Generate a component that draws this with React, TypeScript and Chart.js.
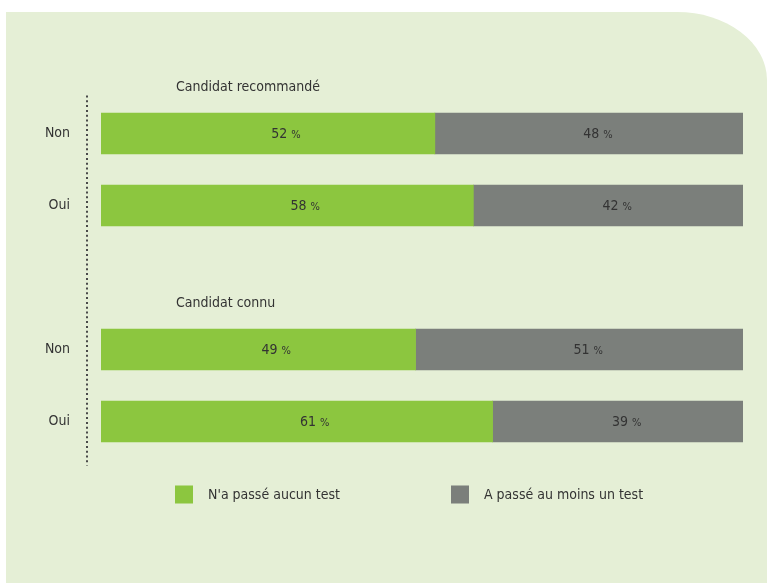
import React, { useEffect, useRef } from "react";
import { Chart, registerables } from "chart.js";

Chart.register(...registerables);

const groupTitles = ["Candidat recommandé", "Candidat connu"];
const answerLabels = ["Non", "Oui"];
const seriesNames = ["N'a passé aucun test", "A passé au moins un test"];
const noTestValues = [52, 58, 49, 61];
const atLeastOneValues = [48, 42, 51, 39];

const FONT = "'DejaVu Sans Condensed', 'DejaVu Sans', sans-serif";
const GREEN = "#8cc63f";
const GRAY = "#7b7f7b";
const TEXT = "#333333";
const PANEL = "#e5efd6";

// Build the rows: each group's answers, with an empty spacer row between groups
const rowLabels: string[] = [];
const rowGroup: number[] = [];
const greenData: (number | null)[] = [];
const grayData: (number | null)[] = [];
groupTitles.forEach((_g, gi) => {
  if (gi > 0) {
    rowLabels.push("");
    rowGroup.push(-1);
    greenData.push(null);
    grayData.push(null);
  }
  answerLabels.forEach((a, ai) => {
    const k = gi * answerLabels.length + ai;
    rowLabels.push(a);
    rowGroup.push(gi);
    greenData.push(noTestValues[k]);
    grayData.push(atLeastOneValues[k]);
  });
});

const labelOffsets = [18, 9];

const decorPlugin = {
  id: "decor",
  afterDatasetsDraw(chart: any) {
    const ctx = chart.ctx as CanvasRenderingContext2D;
    const area = chart.chartArea;
    ctx.save();

    // dotted vertical axis
    ctx.strokeStyle = "#4a4a4a";
    ctx.lineWidth = 2;
    ctx.setLineDash([2, 2.8]);
    ctx.beginPath();
    ctx.moveTo(area.left - 14, area.top - 2);
    ctx.lineTo(area.left - 14, area.bottom + 8);
    ctx.stroke();
    ctx.setLineDash([]);

    // value labels
    ctx.fillStyle = TEXT;
    ctx.textBaseline = "middle";
    chart.data.datasets.forEach((ds: any, di: number) => {
      const meta = chart.getDatasetMeta(di);
      meta.data.forEach((bar: any, i: number) => {
        const v = ds.data[i];
        if (v === null || v === undefined) return;
        const { x, base, y } = bar.getProps(["x", "base", "y"], true);
        const cx = (x + base) / 2 + labelOffsets[di];
        const numTxt = String(v) + " ";
        ctx.font = "14px " + FONT;
        const wNum = ctx.measureText(numTxt).width;
        ctx.font = "11px " + FONT;
        const wPct = ctx.measureText("%").width;
        const start = cx - (wNum + wPct) / 2;
        ctx.textAlign = "left";
        ctx.font = "14px " + FONT;
        ctx.fillText(numTxt, start, y + 1);
        ctx.font = "11px " + FONT;
        ctx.fillText("%", start + wNum, y + 2);
      });
    });

    // group titles
    const meta0 = chart.getDatasetMeta(0);
    ctx.font = "14px " + FONT;
    ctx.textAlign = "left";
    groupTitles.forEach((t, gi) => {
      const idx = rowGroup.indexOf(gi);
      const bar: any = meta0.data[idx];
      const { y, height } = bar.getProps(["y", "height"], true);
      ctx.fillText(t, area.left + 75, y - height / 2 - 26);
    });

    // legend
    const colors = [GREEN, GRAY];
    const ly = area.bottom + 37;
    seriesNames.forEach((name, i) => {
      const bx = area.left + 74 + i * 276;
      ctx.fillStyle = colors[i];
      ctx.fillRect(bx, ly - 9, 18, 18);
      ctx.fillStyle = TEXT;
      ctx.font = "14px " + FONT;
      ctx.fillText(name, bx + 33, ly + 1);
    });

    ctx.restore();
  },
};

export default function App() {
  const ref = useRef<HTMLCanvasElement | null>(null);
  useEffect(() => {
    if (!ref.current) return;
    const chart = new Chart(ref.current, {
      type: "bar",
      data: {
        labels: rowLabels,
        datasets: [
          { label: seriesNames[0], data: greenData, backgroundColor: GREEN, borderWidth: 0 },
          { label: seriesNames[1], data: grayData, backgroundColor: GRAY, borderWidth: 0 },
        ],
      },
      options: {
        indexAxis: "y",
        animation: false,
        responsive: false,
        maintainAspectRatio: false,
        events: [],
        layout: { padding: { top: 97.5, bottom: 125.5, left: 0, right: 24 } },
        datasets: { bar: { barThickness: 41 } } as any,
        scales: {
          x: { stacked: true, display: false, min: 0, max: 100 },
          y: {
            stacked: true,
            grid: { display: false, drawTicks: false, tickLength: 0 },
            border: { display: false },
            ticks: { color: TEXT, padding: 31, font: { family: FONT, size: 14 } },
            afterFit(scale: any) {
              scale.width = 101;
            },
          },
        },
        plugins: { legend: { display: false }, tooltip: { enabled: false } },
      },
      plugins: [decorPlugin],
    });
    return () => chart.destroy();
  }, []);

  return (
    <div style={{ position: "absolute", left: 0, top: 0, width: 767, height: 583, overflow: "hidden", background: "#ffffff" }}>
      <div
        style={{
          position: "absolute",
          left: 6,
          top: 12,
          width: 761,
          height: 571,
          background: PANEL,
          borderTopRightRadius: "90px 68px",
        }}
      />
      <canvas ref={ref} width={767} height={583} style={{ position: "absolute", left: 0, top: 0, width: 767, height: 583 }} />
    </div>
  );
}
